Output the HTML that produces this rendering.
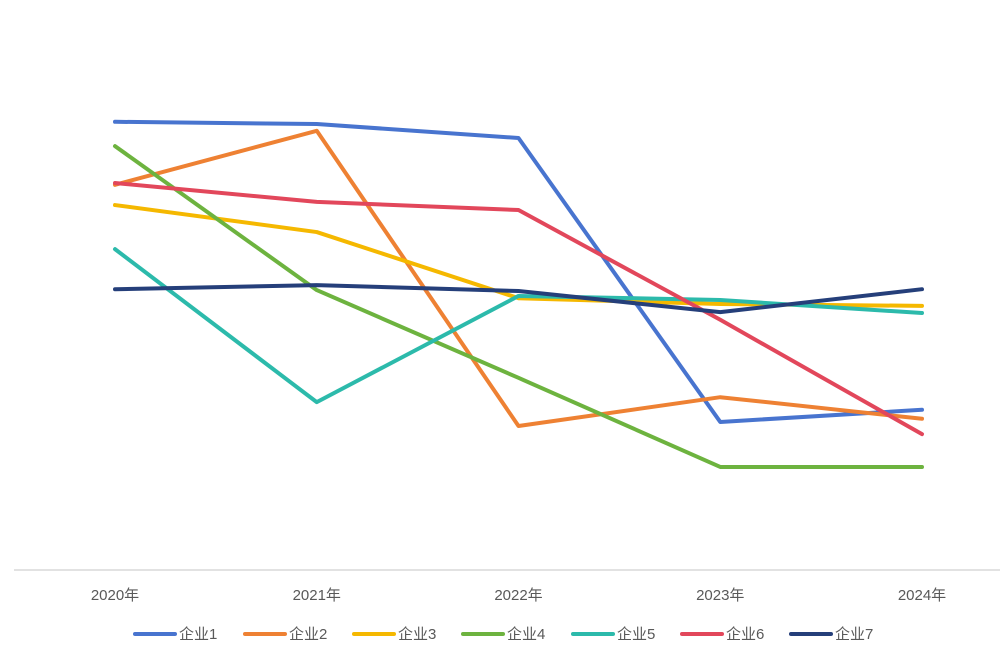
<!DOCTYPE html>
<html><head><meta charset="utf-8">
<style>
html,body{margin:0;padding:0;background:#fff;}
svg{display:block;font-family:"Liberation Sans","Noto Sans CJK SC",sans-serif;}
</style></head>
<body>
<svg id="chart" width="1000" height="654" viewBox="0 0 1000 654"></svg>
<script>
const categories = ["2020年","2021年","2022年","2023年","2024年"];
const seriesNames = ["企业1","企业2","企业3","企业4","企业5","企业6","企业7"];
const s1 = [99.6, 99.1, 96.0, 32.9, 35.6];
const s2 = [85.6, 97.6, 32.0, 38.4, 33.6];
const s3 = [81.1, 75.1, 60.4, 59.1, 58.7];
const s4 = [94.2, 62.2, 42.7, 22.9, 22.9];
const s5 = [71.3, 37.3, 60.9, 60.0, 57.1];
const s6 = [86.0, 81.8, 80.0, 55.6, 30.2];
const s7 = [62.4, 63.3, 62.0, 57.3, 62.4];
const seriesValues = [s1,s2,s3,s4,s5,s6,s7];
const colors = ["#4874CF","#EE8133","#F5B800","#6DB33F","#2CBAAB","#E2475B","#253F7A"];

const NS="http://www.w3.org/2000/svg";
const svg=document.getElementById('chart');
function mk(t,a,p){const e=document.createElementNS(NS,t);for(const k in a)e.setAttribute(k,a[k]);(p||svg).appendChild(e);return e;}
const x0=115, x1=922, yBase=570, pxPerUnit=4.5;
function xs(i){return x0+i*(x1-x0)/(categories.length-1);}
function ys(v){return yBase-v*pxPerUnit;}

const axis=mk('line',{x1:14,x2:1000,y1:yBase,y2:yBase,stroke:'#d9d9d9','stroke-width':1.5});



categories.forEach((c,i)=>{
  const t=mk('text',{x:xs(i),y:600,'text-anchor':'middle','font-size':15,fill:'#595959'});
  t.textContent=c;
  
  
});

seriesValues.forEach((vals,si)=>{
  const pts=vals.map((v,i)=>xs(i)+','+ys(v)).join(' ');
  const pl=mk('polyline',{points:pts,fill:'none',stroke:colors[si],'stroke-width':4,'stroke-linejoin':'round','stroke-linecap':'round'});
  
  
});

const legX=[135,245,354,463,573,682,791];
seriesNames.forEach((n,si)=>{
  const g=mk('g',{});
  
  
  mk('line',{x1:legX[si],x2:legX[si]+40,y1:634,y2:634,stroke:colors[si],'stroke-width':4,'stroke-linecap':'round'},g);
  const t=mk('text',{x:legX[si]+44,y:639,'font-size':15,fill:'#595959'},g);
  t.textContent=n;
});
</script>
</body></html>
